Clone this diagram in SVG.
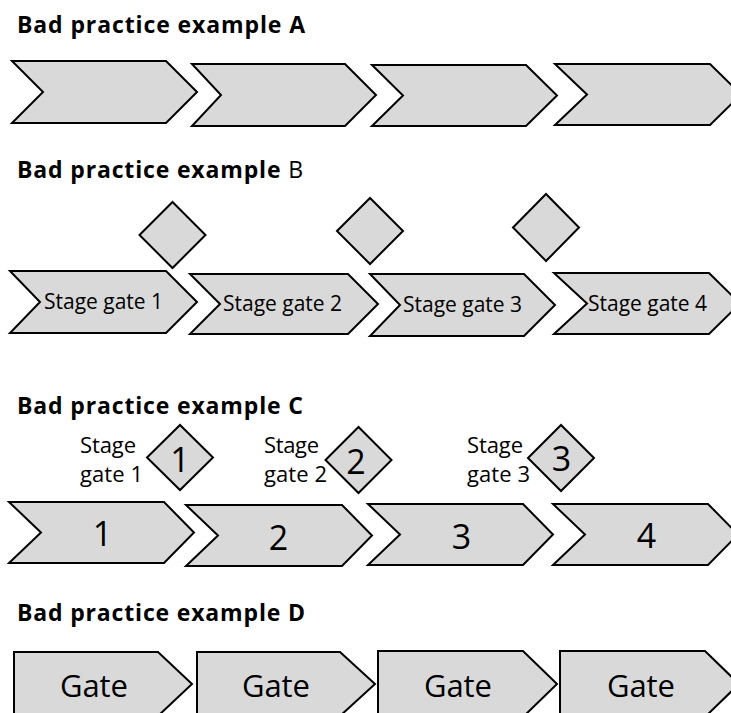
<svg xmlns="http://www.w3.org/2000/svg" width="731" height="713" viewBox="0 0 731 713">
<style>
.s{fill:#d9d9d9;stroke:#000;stroke-width:2;stroke-linejoin:miter}
.t{font-family:"Open Sans","Liberation Sans",sans-serif;font-weight:700;font-size:23px;fill:#000}
.n{font-weight:400}
.l{font-family:"Open Sans","Liberation Sans",sans-serif;font-size:21px;fill:#000}
.c{font-size:22px}
.d{font-family:"Open Sans","Liberation Sans",sans-serif;font-size:34px;fill:#000;text-anchor:middle}
.g{font-family:"Open Sans","Liberation Sans",sans-serif;font-size:31px;fill:#000}
</style>
<rect width="731" height="713" fill="#fff"/>
<g id="titles">
<text class="t" x="17" y="33" textLength="288">Bad practice example A</text>
<text class="t" x="17" y="178" textLength="286">Bad practice example <tspan class="n">B</tspan></text>
<text class="t" x="17" y="414" textLength="286">Bad practice example C</text>
<text class="t" x="17" y="621" textLength="288">Bad practice example D</text>
</g>
<g id="rowA">
<g id="a1"><polygon class="s" points="12,61 166,61 197,92 166,123 12,123 43,92"/></g>
<g id="a2"><polygon class="s" points="192,64 345,64 376,95 345,126 192,126 221,95"/></g>
<g id="a3"><polygon class="s" points="372,65 526,65 557,95.5 526,126 372,126 403,95.5"/></g>
<g id="a4"><polygon class="s" points="555,64 710,64 741,94.5 710,125 555,125 587,94.5"/></g>
</g>
<g id="rowB">
<g id="bGate1"><polygon class="s" points="139.5,235 172.5,202 205.5,235 172.5,268"/></g>
<g id="bGate2"><polygon class="s" points="337,231 370,198 403,231 370,264"/></g>
<g id="bGate3"><polygon class="s" points="513,227.5 546,194 579,227.5 546,261"/></g>
<g id="b1"><polygon class="s" points="10,271 166,271 197,302 166,333 10,333 40,302"/><text class="l" x="44" y="309" textLength="119">Stage gate 1</text></g>
<g id="b2"><polygon class="s" points="190,274 348,274 378,304 348,334 190,334 220,304"/><text class="l" x="223" y="311" textLength="119">Stage gate 2</text></g>
<g id="b3"><polygon class="s" points="370,274 524,274 555,305 524,336 370,336 400,305"/><text class="l" x="403" y="312" textLength="119">Stage gate 3</text></g>
<g id="b4"><polygon class="s" points="554,273 709,273 740,303.5 709,334 554,334 587,303.5"/><text class="l" x="588" y="311" textLength="119">Stage gate 4</text></g>
</g>
<g id="rowC">
<g id="cGate1"><text class="l c" x="80" y="453" textLength="56">Stage</text><text class="l c" x="80" y="482" textLength="63">gate 1</text><polygon class="s" points="147,457.5 180,425 213,457.5 180,490"/><text class="d" x="180" y="472">1</text></g>
<g id="cGate2"><text class="l c" x="264" y="453" textLength="55">Stage</text><text class="l c" x="264" y="482" textLength="63">gate 2</text><polygon class="s" points="325.5,460 358.5,427 391.5,460 358.5,493"/><text class="d" x="356" y="474">2</text></g>
<g id="cGate3"><text class="l c" x="467" y="453" textLength="56">Stage</text><text class="l c" x="467" y="482" textLength="63">gate 3</text><polygon class="s" points="528,458 561,425 594,458 561,491"/><text class="d" x="561.5" y="471">3</text></g>
<g id="c1"><polygon class="s" points="9,502 164,502 194,532.5 164,563 9,563 41,532.5"/><text class="d" x="102.5" y="546" font-size="36">1</text></g>
<g id="c2"><polygon class="s" points="186,505 342,505 372,535.5 342,566 186,566 218,535.5"/><text class="d" x="278.5" y="550" font-size="36">2</text></g>
<g id="c3"><polygon class="s" points="368,504 523,504 553,534.5 523,565 368,565 400,534.5"/><text class="d" x="461.5" y="549" font-size="36">3</text></g>
<g id="c4"><polygon class="s" points="553,504 708,504 738,534.5 708,565 553,565 585,534.5"/><text class="d" x="646.5" y="548" font-size="36">4</text></g>
</g>
<g id="rowD">
<g id="d1"><polygon class="s" points="14,652 158,652 192,684 158,716 14,716"/><text class="g" x="60" y="697" textLength="68">Gate</text></g>
<g id="d2"><polygon class="s" points="197,652 340,652 375,684 340,716 197,716"/><text class="g" x="242" y="697" textLength="68">Gate</text></g>
<g id="d3"><polygon class="s" points="378,651 523,651 557,684 523,717 378,717"/><text class="g" x="424" y="697" textLength="68">Gate</text></g>
<g id="d4"><polygon class="s" points="560,651 705,651 739,684 705,717 560,717"/><text class="g" x="607" y="697" textLength="68">Gate</text></g>
</g>
<g id="connectors"/>
</svg>
